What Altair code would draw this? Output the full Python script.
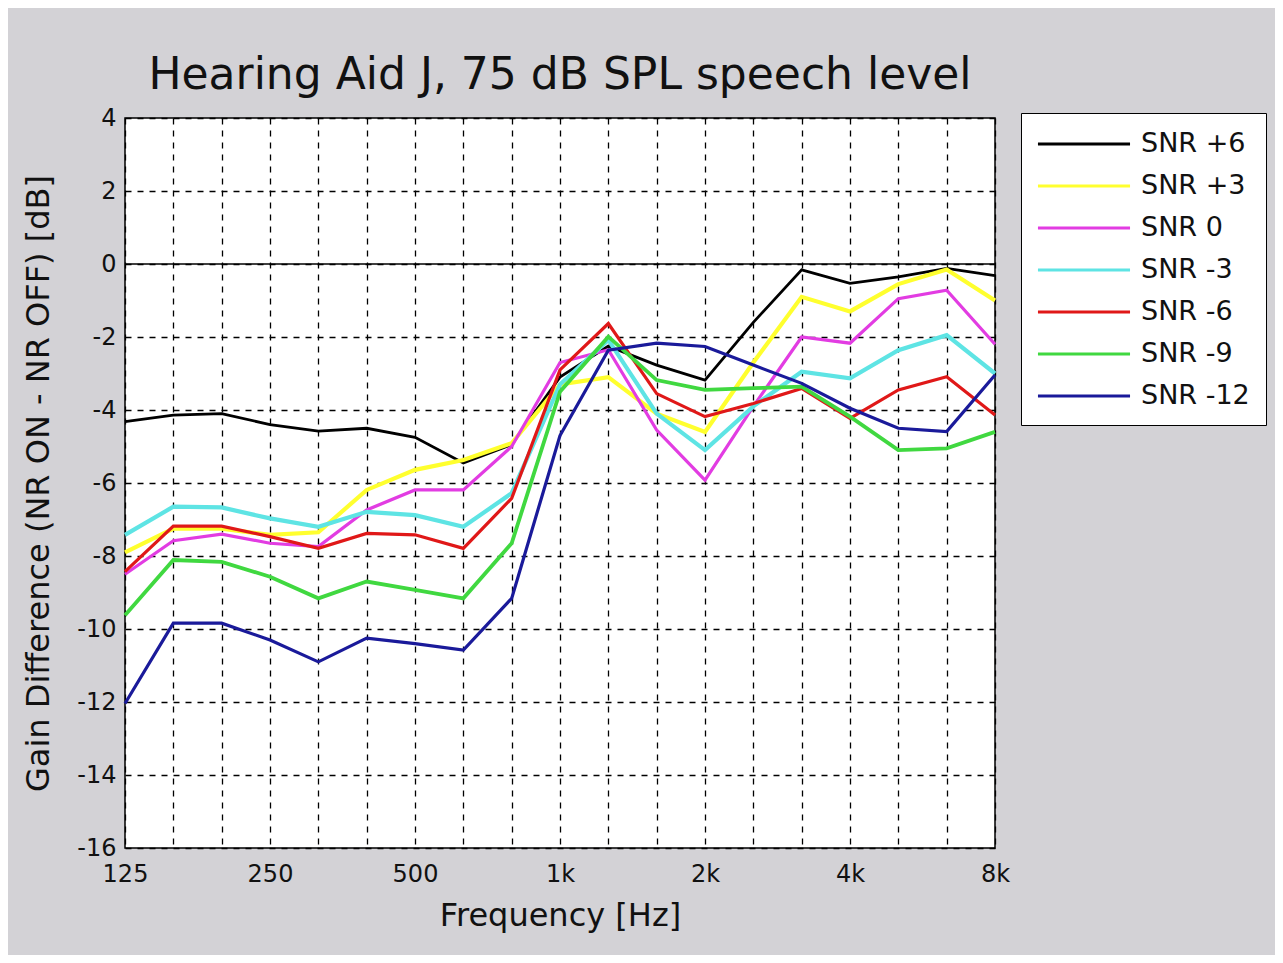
import altair as alt
import pandas as pd

# third-octave centre frequencies (Hz) where the curves are sampled
freqs = [125, 157.5, 198.4, 250, 315, 396.9, 500, 630, 793.7, 1000,
         1259.9, 1587.4, 2000, 2519.8, 3174.8, 4000, 5039.7, 6349.6, 8000]

series_names = ["SNR +6", "SNR +3", "SNR 0", "SNR -3", "SNR -6", "SNR -9", "SNR -12"]

snr_p6 = [-4.32, -4.14, -4.10, -4.40, -4.58, -4.50, -4.75, -5.45, -4.95, -3.10,
          -2.25, -2.77, -3.18, -1.60, -0.16, -0.53, -0.35, -0.12, -0.32]
snr_p3 = [-7.90, -7.25, -7.25, -7.42, -7.35, -6.19, -5.64, -5.37, -4.91, -3.30,
          -3.10, -4.10, -4.60, -2.70, -0.90, -1.30, -0.55, -0.15, -1.00]
snr_0 = [-8.50, -7.58, -7.40, -7.65, -7.74, -6.74, -6.19, -6.19, -5.00, -2.70,
         -2.35, -4.55, -5.92, -3.90, -2.00, -2.17, -0.95, -0.72, -2.20]
snr_m3 = [-7.42, -6.65, -6.67, -6.97, -7.20, -6.79, -6.88, -7.20, -6.28, -3.30,
          -2.08, -4.10, -5.10, -3.90, -2.95, -3.13, -2.36, -1.95, -3.00]
snr_m6 = [-8.43, -7.18, -7.18, -7.47, -7.79, -7.38, -7.42, -7.79, -6.42, -2.90,
          -1.63, -3.55, -4.18, -3.82, -3.41, -4.23, -3.45, -3.09, -4.14]
snr_m9 = [-9.62, -8.11, -8.16, -8.57, -9.16, -8.70, -8.93, -9.16, -7.65, -3.50,
          -1.99, -3.18, -3.45, -3.40, -3.36, -4.18, -5.10, -5.05, -4.60]
snr_m12 = [-12.04, -9.84, -9.84, -10.30, -10.90, -10.25, -10.40, -10.58, -9.16, -4.70,
           -2.36, -2.17, -2.26, -2.77, -3.27, -3.95, -4.50, -4.59, -3.04]

series_values = [snr_p6, snr_p3, snr_0, snr_m3, snr_m6, snr_m9, snr_m12]
colors = ["#000000", "#ffff2e", "#e23ce2", "#5ee4e4", "#e01818", "#40d840", "#1a1a9a"]
widths = [2.8, 4.2, 3.2, 4.2, 3.2, 3.8, 3.2]

octave_ticks = [125, 250, 500, 1000, 2000, 4000, 8000]
octave_labels = ["125", "250", "500", "1k", "2k", "4k", "8k"]
y_ticks = [4, 2, 0, -2, -4, -6, -8, -10, -12, -14, -16]

rows = []
for order, (name, vals, w) in enumerate(zip(series_names, series_values, widths)):
    for f, v in zip(freqs, vals):
        rows.append({"freq": f, "gain": v, "series": name, "order": order, "w": w})
df = pd.DataFrame(rows)

label_expr = " : ".join(
    f"datum.value == {t} ? '{l}'" for t, l in zip(octave_ticks, octave_labels)
) + " : ''"

FONT = "DejaVu Sans"

x_enc = alt.X(
    "freq:Q",
    scale=alt.Scale(type="log", domain=[125, 8000], nice=False),
    axis=alt.Axis(
        values=freqs, labelExpr=label_expr, title="Frequency [Hz]",
        labelFontSize=24, titleFontSize=32, labelFlush=False, labelOverlap=False,
        labelPadding=14, titlePadding=14, ticks=False, domain=False,
        grid=True, gridDash=[6, 6], gridColor="#000000", gridWidth=1.3, gridOpacity=1,
        labelFont=FONT, titleFont=FONT, titleFontWeight="normal",
        labelColor="#111111", titleColor="#111111",
    ),
)
y_enc = alt.Y(
    "gain:Q",
    scale=alt.Scale(domain=[-16, 4], nice=False),
    axis=alt.Axis(
        values=y_ticks, labelExpr="'' + datum.value",
        title="Gain Difference (NR ON - NR OFF) [dB]",
        labelFontSize=24, titleFontSize=32, labelPadding=9, titlePadding=21,
        ticks=False, domain=False,
        grid=True, gridDash=[6, 6], gridColor="#000000", gridWidth=1.3, gridOpacity=1,
        labelFont=FONT, titleFont=FONT, titleFontWeight="normal",
        labelColor="#111111", titleColor="#111111",
    ),
)

lines = alt.Chart(df).mark_line(strokeJoin="miter").encode(
    x=x_enc,
    y=y_enc,
    color=alt.Color(
        "series:N",
        scale=alt.Scale(domain=series_names, range=colors),
        sort=series_names,
        legend=alt.Legend(
            title=None, orient="none", legendX=896, legendY=-5,
            symbolType="M-1.04,0H5.78", symbolSize=729, symbolStrokeWidth=3,
            labelFontSize=27, labelFont=FONT, labelColor="#111111",
            labelOffset=74, padding=16, fillColor="white", strokeColor="black",
            rowPadding=14,
        ),
    ),
    strokeWidth=alt.StrokeWidth("w:Q", scale=None, legend=None),
    order=alt.Order("order:Q"),
)

zero_df = pd.DataFrame({"gain": [0]})
zero_line = alt.Chart(zero_df).mark_rule(color="#000000", strokeWidth=1.5).encode(
    y=alt.Y("gain:Q", scale=alt.Scale(domain=[-16, 4], nice=False))
)

chart = alt.layer(zero_line, lines).properties(
    width=870,
    height=730,
    title=alt.TitleParams(
        "Hearing Aid J, 75 dB SPL speech level",
        fontSize=44, font=FONT, fontWeight="normal", color="#111111",
        anchor="middle", frame="group", offset=8,
    ),
    autosize=alt.AutoSizeParams(type="none"),
    padding={"left": 117, "top": 110, "right": 280, "bottom": 107},
    background="#d3d2d6",
).configure_view(
    fill="white", stroke="#000000", strokeWidth=1.5,
)

chart.save("out.html", embed_options={"renderer": "svg", "actions": False})
